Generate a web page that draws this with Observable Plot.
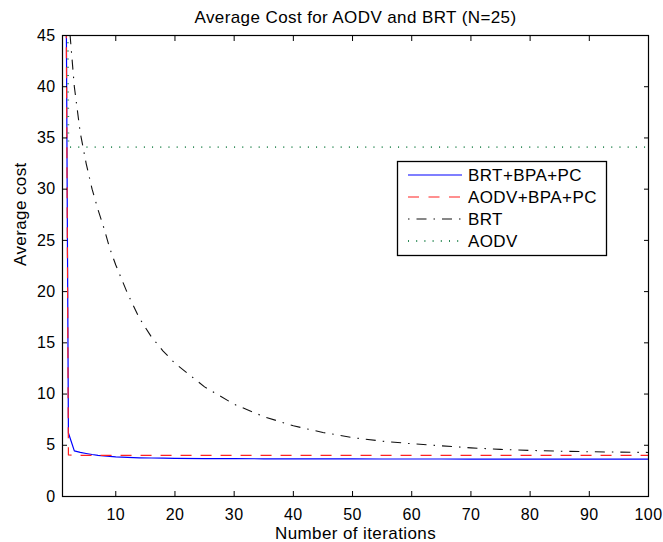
<!DOCTYPE html>
<html>
<head>
<meta charset="utf-8">
<script src="https://cdn.jsdelivr.net/npm/d3@7"></script>
<script src="https://cdn.jsdelivr.net/npm/@observablehq/plot@0.6"></script>
<style>
  html, body { margin: 0; padding: 0; background: white; }
</style>
</head>
<body>
<div id="chart"></div>
<script>
// ---- data ----
const chartTitle = "Average Cost for AODV and BRT (N=25)";
const xLabel = "Number of iterations";
const yLabel = "Average cost";

const iterations = [1,2,3,4,5,6,7,8,9,10,12,14,16,18,20,25,30,35,40,45,50,55,60,65,70,75,80,85,90,95,100];

const brtBpaPc = [120,6.2,4.45,4.3,4.2,4.1,4.02,3.96,3.91,3.87,3.82,3.78,3.76,3.74,3.72,3.7,3.69,3.68,3.68,3.67,3.67,3.66,3.66,3.66,3.65,3.65,3.65,3.65,3.65,3.65,3.65];
const aodvBpaPc = [120,4.05,4.02,4.02,4.02,4.02,4.02,4.02,4.02,4.02,4.02,4.02,4.02,4.02,4.02,4.02,4.02,4.02,4.02,4.02,4.02,4.02,4.02,4.02,4.02,4.02,4.02,4.02,4.02,4.02,4.02];
const brt = [70,47,40,35.5,32.5,30,28,26.2,24.2,22.6,19.8,17.4,15.6,14.2,13,10.7,9.0,7.8,6.9,6.25,5.75,5.4,5.15,4.95,4.75,4.6,4.5,4.42,4.37,4.33,4.3];
const aodv = [150,34.1,34.1,34.1,34.1,34.1,34.1,34.1,34.1,34.1,34.1,34.1,34.1,34.1,34.1,34.1,34.1,34.1,34.1,34.1,34.1,34.1,34.1,34.1,34.1,34.1,34.1,34.1,34.1,34.1,34.1];

const seriesNames = ["BRT+BPA+PC", "AODV+BPA+PC", "BRT", "AODV"];
const seriesValues = [brtBpaPc, aodvBpaPc, brt, aodv];

const xTicks = [10,20,30,40,50,60,70,80,90,100];
const yTicks = [0,5,10,15,20,25,30,35,40,45];

// ---- styles ----
const seriesStyles = [
  {stroke: "#0000ff", strokeWidth: 1.2, dash: null, legendDash: null},
  {stroke: "#ff2020", strokeWidth: 1.2, dash: "11,9", legendDash: "11,9.5"},
  {stroke: "#111111", strokeWidth: 1.1, dash: "10,7,1.5,7", legendDash: "1.5,7,10,7"},
  {stroke: "#2e8b57", strokeWidth: 1.8, dash: "1,7.2", legendDash: "1,7.2"}
];

const rows = seriesValues.map((vals, s) => iterations.map((x, i) => ({x, y: vals[i], series: seriesNames[s]})));

const font = "'Liberation Sans', Arial, Helvetica, sans-serif";

const plot = Plot.plot({
  width: 663,
  height: 542,
  marginTop: 35,
  marginRight: 15,
  marginBottom: 46,
  marginLeft: 62,
  style: {fontFamily: font, fontSize: "16px", letterSpacing: "0.4px", background: "white", overflow: "visible", color: "black"},
  x: {domain: [1, 100]},
  y: {domain: [0, 45]},
  marks: [
    ...rows.map((data, s) => Plot.line(data, {
      x: "x", y: "y",
      stroke: seriesStyles[s].stroke,
      strokeWidth: seriesStyles[s].strokeWidth,
      strokeDasharray: seriesStyles[s].dash,
      strokeLinecap: "butt",
      clip: true
    })),
    Plot.axisX(xTicks, {anchor: "bottom", tickSize: -5, tickPadding: 17, label: null, fontSize: 16}),
    Plot.axisX(xTicks, {anchor: "top", tickSize: -5, tickFormat: () => "", label: null}),
    Plot.axisY(yTicks, {anchor: "left", tickSize: -5, tickPadding: 12, label: null, fontSize: 16}),
    Plot.axisY(yTicks, {anchor: "right", tickSize: -5, tickFormat: () => "", label: null}),
    Plot.frame({stroke: "black", strokeWidth: 1.2}),
    Plot.text([xLabel], {frameAnchor: "bottom", dy: 37, fontSize: 17, lineAnchor: "middle"}),
    Plot.text([yLabel], {frameAnchor: "left", dx: -42, rotate: -90, fontSize: 17, lineAnchor: "middle"}),
    Plot.text([chartTitle], {frameAnchor: "top", dy: -18, fontSize: 17, lineAnchor: "middle"})
  ]
});

document.getElementById("chart").appendChild(plot);

// ---- legend (drawn on top of the plot, MATLAB style box) ----
const svg = d3.select(plot);
const lg = svg.append("g")
  .attr("font-family", font)
  .attr("font-size", 17)
  .attr("text-anchor", "start");
lg.append("rect")
  .attr("x", 397.5).attr("y", 161.5).attr("width", 209).attr("height", 94)
  .attr("fill", "white").attr("stroke", "black").attr("stroke-width", 1.3);
seriesNames.forEach((name, i) => {
  const cy = 175 + i * 22;
  const st = seriesStyles[i];
  lg.append("line")
    .attr("x1", 408).attr("x2", 462).attr("y1", cy).attr("y2", cy)
    .attr("stroke", st.stroke).attr("stroke-width", st.strokeWidth)
    .attr("stroke-dasharray", st.legendDash);
  lg.append("text")
    .attr("x", 468).attr("y", cy).attr("dy", "0.36em")
    .attr("text-anchor", "start")
    .attr("fill", "black")
    .text(name);
});
</script>
</body>
</html>
